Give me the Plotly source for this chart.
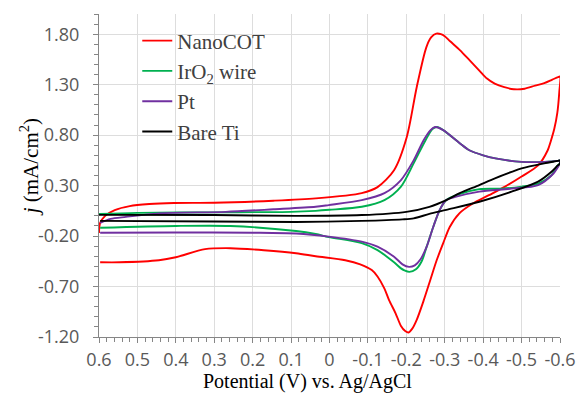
import plotly.graph_objects as go

# ---------------- data ----------------
series_names = ["NanoCOT", "IrO<sub>2</sub> wire", "Pt", "Bare Ti"]
series_colors = ["#FF0000", "#00B050", "#7030A0", "#000000"]

nano_v = [0.6, 0.597, 0.584, 0.559, 0.52, 0.469, 0.405, 0.3, 0.146, 0.036, -0.084, -0.125,
          -0.168, -0.201, -0.227, -0.252, -0.265, -0.278, -0.29, -0.30, -0.314, -0.34,
          -0.365, -0.39, -0.41, -0.43, -0.455, -0.48, -0.508, -0.535, -0.559, -0.58,
          -0.595, -0.6,
          -0.598, -0.593, -0.585, -0.576, -0.568, -0.543, -0.500, -0.457, -0.415, -0.372,
          -0.338, -0.313, -0.296, -0.279, -0.262, -0.245, -0.227, -0.215, -0.206, -0.197,
          -0.186, -0.172, -0.155, -0.143, -0.125, -0.110, -0.08, -0.041, 0.036, 0.087,
          0.171, 0.258, 0.324, 0.400, 0.444, 0.546, 0.597]
nano_j = [-0.17, -0.07, 0.0, 0.057, 0.097, 0.117, 0.127, 0.13, 0.15, 0.173, 0.226, 0.285,
          0.453, 0.78, 1.275, 1.67, 1.77, 1.805, 1.80, 1.78, 1.73, 1.64,
          1.54, 1.44, 1.36, 1.31, 1.275, 1.255, 1.26, 1.29, 1.315, 1.35,
          1.375, 1.38,
          1.22, 1.02, 0.86, 0.74, 0.65, 0.50, 0.39, 0.29, 0.205, 0.12,
          0.025, -0.11, -0.27, -0.44, -0.64, -0.84, -1.03, -1.12, -1.155, -1.14,
          -1.09, -0.965, -0.834, -0.72, -0.6, -0.537, -0.48, -0.44, -0.40, -0.37,
          -0.34, -0.32, -0.33, -0.41, -0.44, -0.46, -0.46]

iro2_v = [0.6, 0.5, 0.3, 0.1, 0.036, 0.0, -0.084, -0.143, -0.186, -0.219, -0.25, -0.268,
          -0.28, -0.296, -0.339, -0.364, -0.40, -0.432, -0.50, -0.56, -0.594, -0.6,
          -0.6, -0.594, -0.577, -0.543, -0.50, -0.45, -0.39, -0.33, -0.304, -0.287, -0.27,
          -0.253, -0.24, -0.225, -0.208, -0.195, -0.186, -0.168, -0.125, -0.084, 0.002,
          0.036, 0.087, 0.258, 0.4, 0.597]
iro2_j = [0.02, 0.03, 0.035, 0.04, 0.05, 0.06, 0.09, 0.156, 0.29, 0.52, 0.75, 0.86,
          0.88, 0.85, 0.72, 0.65, 0.60, 0.57, 0.535, 0.535, 0.545, 0.55,
          0.52, 0.50, 0.40, 0.32, 0.29, 0.27, 0.265, 0.205, 0.157, 0.06, -0.11,
          -0.305, -0.45, -0.53, -0.555, -0.54, -0.52, -0.46, -0.34, -0.27, -0.21,
          -0.18, -0.15, -0.10, -0.10, -0.118]

pt_v = [0.597, 0.57, 0.53, 0.444, 0.27, 0.146, 0.036, 0.002, -0.084, -0.143, -0.186,
        -0.219, -0.245, -0.263, -0.275, -0.296, -0.339, -0.364, -0.40, -0.432, -0.50,
        -0.56, -0.594, -0.6,
        -0.6, -0.594, -0.583, -0.543, -0.474, -0.39, -0.33, -0.304, -0.287, -0.27, -0.253,
        -0.237, -0.222, -0.207, -0.19, -0.168, -0.125, -0.084, 0.002, 0.087, 0.2, 0.4,
        0.597]
pt_j = [-0.07, -0.03, -0.01, 0.025, 0.04, 0.065, 0.09, 0.107, 0.156, 0.225, 0.355,
        0.55, 0.75, 0.85, 0.88, 0.85, 0.72, 0.65, 0.60, 0.57, 0.535,
        0.535, 0.545, 0.55,
        0.52, 0.48, 0.42, 0.305, 0.27, 0.24, 0.19, 0.157, 0.06, -0.11, -0.305,
        -0.43, -0.49, -0.505, -0.48, -0.405, -0.305, -0.255, -0.205, -0.175, -0.167, -0.165,
        -0.167]

ti_v = [0.6, 0.3, 0.087, -0.084, -0.2, -0.26, -0.304, -0.339, -0.39, -0.42, -0.474,
        -0.50, -0.559, -0.594, -0.6,
        -0.6, -0.594, -0.577, -0.543, -0.474, -0.39, -0.304, -0.26, -0.219, -0.19,
        -0.084, 0.087, 0.3, 0.597]
ti_j = [0.01, 0.008, 0.0, 0.008, 0.04, 0.09, 0.157, 0.225, 0.305, 0.355, 0.435,
        0.47, 0.52, 0.545, 0.55,
        0.52, 0.50, 0.435, 0.34, 0.24, 0.14, 0.06, 0.02, -0.025, -0.035,
        -0.05, -0.06, -0.055, -0.05]

x_tick_vals = [0.6, 0.5, 0.4, 0.3, 0.2, 0.1, 0.0, -0.1, -0.2, -0.3, -0.4, -0.5, -0.6]
x_tick_text = ["0.6", "0.5", "0.4", "0.3", "0.2", "0.1", "0", "-0.1", "-0.2", "-0.3",
               "-0.4", "-0.5", "-0.6"]
y_tick_vals = [-1.2, -0.7, -0.2, 0.3, 0.8, 1.3, 1.8]
y_tick_text = ["-1.20", "-0.70", "-0.20", "0.30", "0.80", "1.30", "1.80"]

x_title = "Potential (V) vs. Ag/AgCl"
y_title = "<i>j</i> (mA/cm<sup>2</sup>)"

# ---------------- figure ----------------
fig = go.Figure()
all_v = [nano_v, iro2_v, pt_v, ti_v]
all_j = [nano_j, iro2_j, pt_j, ti_j]
for name, color, v, j in zip(series_names, series_colors, all_v, all_j):
    fig.add_trace(go.Scatter(
        x=v, y=j, mode="lines", name=name,
        line=dict(color=color, width=1.9, shape="spline", smoothing=0.8),
    ))

axis_color = "#868686"
grid_color = "#DDDDDD"
tick_font = dict(family="Open Sans", size=18, color="#595959")

fig.update_layout(
    width=588, height=394,
    margin=dict(l=99, r=19, t=14, b=57),
    paper_bgcolor="white", plot_bgcolor="white",
    showlegend=True,
    legend=dict(
        x=0.083, y=0.98, xanchor="left", yanchor="top",
        bgcolor="rgba(0,0,0,0)",
        font=dict(family="Liberation Serif", size=21, color="#404040"),
        itemwidth=30,
    ),
    xaxis=dict(
        range=[0.6, -0.6], tickmode="array", tickvals=x_tick_vals, ticktext=x_tick_text,
        showgrid=True, gridcolor=grid_color, gridwidth=1, zeroline=False,
        showline=True, linecolor=axis_color, linewidth=1,
        ticks="outside", ticklen=5, tickcolor=axis_color, tickfont=tick_font,
        ticklabelstandoff=1,
        minor=dict(tickmode="linear", tick0=0, dtick=0.02, ticks="outside", ticklen=4,
                   tickcolor=axis_color, showgrid=False),
    ),
    yaxis=dict(
        range=[-1.2, 2.0], tickmode="array", tickvals=y_tick_vals, ticktext=y_tick_text,
        showgrid=True, gridcolor=grid_color, gridwidth=1, zeroline=False,
        showline=True, linecolor=axis_color, linewidth=1,
        ticks="outside", ticklen=5, tickcolor=axis_color, tickfont=tick_font,
        ticklabelstandoff=10,
        minor=dict(tickmode="linear", tick0=0, dtick=0.1, ticks="outside", ticklen=4,
                   tickcolor=axis_color, showgrid=False),
    ),
    annotations=[
        dict(text=x_title, xref="paper", yref="paper", x=(312 - 99) / 470,
             y=(337 - 395) / 323, xanchor="center", yanchor="bottom", showarrow=False,
             font=dict(family="Liberation Serif", size=20, color="black")),
        dict(text=y_title, xref="paper", yref="paper", x=(28 - 99) / 470,
             y=(337 - 167) / 323, xanchor="center", yanchor="middle", showarrow=False,
             textangle=-90,
             font=dict(family="Liberation Serif", size=21, color="black")),
    ],
)

fig.write_html("out.html")
